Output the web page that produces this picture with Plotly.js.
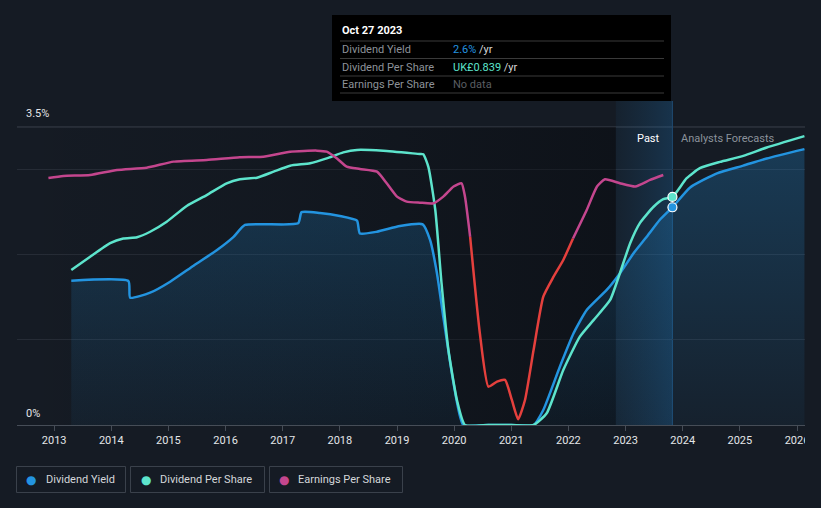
<!DOCTYPE html>
<html>
<head>
<meta charset="utf-8">
<script src="https://cdn.plot.ly/plotly-3.0.1.min.js"></script>
<style>
  html, body { margin:0; padding:0; background:#151b24; }
  #chart { width:821px; height:508px; }
</style>
</head>
<body>
<div id="chart"></div>
<script>
// ---------------- DATA ----------------
const yieldYears = [2013.30,2014.30,2014.33,2014.68,2015.03,2015.44,2015.85,2016.14,2016.34,2017.27,2017.33,2017.65,2018.00,2018.30,2018.35,2018.65,2019.05,2019.45,2019.58,2019.70,2019.81,2019.99,2020.16,2020.60,2021.00,2021.39,2021.56,2021.85,2022.09,2022.32,2022.67,2022.90,2023.14,2023.37,2023.60,2023.82,2024.13,2024.60,2025.06,2025.47,2026.13];
const yieldPct   = [1.695,1.69,1.495,1.554,1.683,1.871,2.055,2.21,2.349,2.368,2.50,2.49,2.455,2.40,2.25,2.27,2.337,2.357,2.17,1.78,1.27,0.49,0.0,0.0,0.0,0.0,0.176,0.685,1.077,1.35,1.586,1.78,2.017,2.21,2.41,2.557,2.79,2.956,3.046,3.13,3.24];

const dpsYears = [2013.30,2013.63,2013.98,2014.21,2014.45,2014.68,2014.97,2015.32,2015.67,2016.02,2016.25,2016.55,2016.84,2017.13,2017.48,2017.77,2018.06,2018.30,2018.76,2019.40,2019.46,2019.55,2019.67,2019.78,2019.90,2020.05,2020.19,2020.60,2021.00,2021.39,2021.62,2021.91,2022.20,2022.44,2022.73,2022.90,2023.08,2023.25,2023.49,2023.66,2023.82,2024.07,2024.30,2024.65,2025.06,2025.47,2026.13];
const dpsGBP   = [0.570,0.619,0.669,0.686,0.691,0.711,0.748,0.806,0.846,0.889,0.904,0.910,0.932,0.954,0.963,0.981,1.003,1.012,1.009,0.997,0.996,0.949,0.791,0.520,0.276,0.091,0,0,0,0,0.043,0.202,0.325,0.386,0.460,0.558,0.669,0.743,0.803,0.831,0.839,0.908,0.945,0.968,0.990,1.021,1.063];

const epsYears = [2012.90,2013.16,2013.63,2014.10,2014.62,2015.09,2015.67,2016.25,2016.66,2017.13,2017.60,2017.77,2017.95,2018.12,2018.35,2018.65,2018.82,2019.00,2019.17,2019.40,2019.64,2019.81,2019.99,2020.13,2020.19,2020.28,2020.45,2020.60,2020.75,2020.89,2021.01,2021.12,2021.24,2021.39,2021.56,2021.74,2021.91,2022.08,2022.32,2022.50,2022.64,2022.90,2023.17,2023.43,2023.66];
const epsGBP   = [0.290,0.2925,0.2936,0.2995,0.3022,0.3093,0.3113,0.3144,0.3151,0.321,0.3222,0.321,0.313,0.3034,0.3007,0.2975,0.2839,0.2682,0.2623,0.2611,0.2604,0.2682,0.280,0.2839,0.268,0.221,0.1077,0.045,0.0509,0.0529,0.0294,0.0067,0.0294,0.088,0.1507,0.1742,0.1938,0.219,0.2525,0.280,0.2886,0.2839,0.280,0.2878,0.2936];
const epsDeclineStart = 2020.28;
const epsDeclineEnd   = 2022.08;

const tickYears  = [2013,2014,2015,2016,2017,2018,2019,2020,2021,2022,2023,2024,2025,2026];
const tickLabels = ['2013','2014','2015','2016','2017','2018','2019','2020','2021','2022','2023','2024','2025','2026'];

const pastStart   = 2022.83;
const tooltipDate = 2023.82;
const tooltipLabel = 'Oct 27 2023';
const seriesNames = ['Dividend Yield','Dividend Per Share','Earnings Per Share'];

// ---------------- STYLE ----------------
const BG = '#151b24';
const C_YIELD = '#2394e0', C_DPS = '#5de4cc', C_EPS = '#c4468e', C_EPS_NEG = '#e5403d';
const L = 17, R = 805, T = 101, B = 425;
const px = x => (x - L) / (R - L);
const py = y => (B - y) / (B - T);
const FONT = 'Roboto, "Open Sans", sans-serif';

const X_RANGE = [2012.35, 2026.14];
const Y_TOP = 3.805;           // % at the top of the plotting area
const DPS_SCALE = 0.8390 / 2.678;
const EPS_SCALE = 0.1;

const iS = epsYears.indexOf(epsDeclineStart);
const iE = epsYears.indexOf(epsDeclineEnd);

const iY = yieldYears.indexOf(tooltipDate);
const iD = dpsYears.indexOf(tooltipDate);

const spline = {shape:'spline', smoothing:0.5, width:2.5};

const traces = [
  // background darkening of the past period
  {x:[X_RANGE[0], pastStart, pastStart, X_RANGE[0]], y:[0,0,3.5,3.5], fill:'toself', mode:'lines',
   line:{width:0}, fillcolor:'rgba(0,0,0,0)',
   fillgradient:{type:'horizontal', colorscale:[[0,'rgba(4,6,10,0)'],[0.45,'rgba(4,6,10,0.14)'],[1,'rgba(4,6,10,0.42)']]},
   hoverinfo:'skip', showlegend:false},
  // past highlight band
  {x:[pastStart, tooltipDate, tooltipDate, pastStart], y:[0,0,Y_TOP,Y_TOP], fill:'toself', mode:'lines',
   line:{width:0}, fillcolor:'rgba(0,0,0,0)',
   fillgradient:{type:'horizontal', colorscale:[[0,'rgba(30,110,170,0.08)'],[1,'rgba(30,120,190,0.26)']]},
   hoverinfo:'skip', showlegend:false},
  // dividend yield
  {x:yieldYears, y:yieldPct, mode:'lines', name:seriesNames[0], line:Object.assign({color:C_YIELD}, spline),
   fill:'tozeroy', fillcolor:'rgba(35,148,224,0.15)',
   fillgradient:{type:'vertical', colorscale:[[0,'rgba(35,148,224,0.05)'],[1,'rgba(35,148,224,0.26)']]},
   cliponaxis:false, showlegend:false},
  // dividend per share
  {x:dpsYears, y:dpsGBP, yaxis:'y2', mode:'lines', name:seriesNames[1], line:Object.assign({color:C_DPS}, spline),
   cliponaxis:false, showlegend:false},
  // earnings per share (three segments)
  {x:epsYears.slice(0, iS+1), y:epsGBP.slice(0, iS+1), yaxis:'y3', mode:'lines', name:seriesNames[2],
   line:Object.assign({color:C_EPS}, spline), showlegend:false},
  {x:epsYears.slice(iS, iE+1), y:epsGBP.slice(iS, iE+1), yaxis:'y3', mode:'lines', name:seriesNames[2],
   line:Object.assign({color:C_EPS_NEG}, spline), showlegend:false},
  {x:epsYears.slice(iE), y:epsGBP.slice(iE), yaxis:'y3', mode:'lines', name:seriesNames[2],
   line:Object.assign({color:C_EPS}, spline), showlegend:false},
  // markers at tooltip date
  {x:[yieldYears[iY]], y:[yieldPct[iY]], mode:'markers', marker:{size:9, color:C_YIELD, line:{color:'#ffffff', width:1.2}},
   showlegend:false, hoverinfo:'skip', cliponaxis:false},
  {x:[dpsYears[iD]], y:[dpsGBP[iD]], yaxis:'y2', mode:'markers', marker:{size:9, color:C_DPS, line:{color:'#ffffff', width:1.2}},
   showlegend:false, hoverinfo:'skip', cliponaxis:false}
];

// ---------------- SHAPES & ANNOTATIONS ----------------
const shapes = [
  {type:'line', xref:'paper', yref:'y', x0:0, x1:1, y0:3.5, y1:3.5, line:{color:'#3b414b', width:1}, layer:'below'},
  {type:'line', xref:'x', yref:'paper', x0:tooltipDate, x1:tooltipDate, y0:0, y1:1, line:{color:'#1f4466', width:1}, layer:'below'},
  // tooltip box
  {type:'rect', xref:'paper', yref:'paper', x0:px(332), x1:px(671), y0:py(101), y1:py(15), fillcolor:'#000000', line:{width:0}},
  // clip of the last tick label
  {type:'rect', xref:'paper', yref:'paper', x0:px(805), x1:px(822), y0:py(429), y1:py(455), fillcolor:BG, line:{width:0}}
];
[41, 58.5, 76, 93].forEach(y => shapes.push({type:'line', xref:'paper', yref:'paper', x0:px(340), x1:px(664), y0:py(y), y1:py(y), line:{color:'#3a3a3a', width:1}}));

// legend boxes
const legendBoxes = [[16,126],[130,265],[269,403]];
const legendColors = [C_YIELD, C_DPS, C_EPS];
legendBoxes.forEach(b => shapes.push({type:'rect', xref:'paper', yref:'paper', x0:px(b[0]+0.5), x1:px(b[1]-0.5), y0:py(466.5), y1:py(492.5),
  fillcolor:'rgba(0,0,0,0)', line:{color:'#3a414b', width:1}}));

const ann = (text, x, y, opts) => Object.assign({text, xref:'paper', yref:'paper', x:px(x), y:py(y), showarrow:false,
  xanchor:'left', yanchor:'middle', font:{family:FONT, size:11, color:'#e4e6e8'}}, opts || {});

const annotations = [
  ann('3.5%', 24, 114),
  ann('0%', 24, 413),
  ann('Past', 662, 138, {xanchor:'right', font:{family:FONT, size:11, color:'#ffffff'}}),
  ann('Analysts Forecasts', 679, 138, {font:{family:FONT, size:11, color:'#8b929b'}}),
  ann('<b>' + tooltipLabel + '</b>', 340, 31, {font:{family:FONT, size:11, color:'#ffffff'}}),
  ann(seriesNames[0], 340, 49.5, {font:{family:FONT, size:11, color:'#8d9299'}}),
  ann(seriesNames[1], 340, 67, {font:{family:FONT, size:11, color:'#8d9299'}}),
  ann(seriesNames[2], 340, 84.5, {font:{family:FONT, size:11, color:'#8d9299'}}),
  ann('<span style="color:' + C_YIELD + '">' + yieldPct[iY].toFixed(1) + '%</span> /yr', 451, 49.5, {font:{family:FONT, size:11, color:'#d8d8d8'}}),
  ann('<span style="color:' + C_DPS + '">UK£' + dpsGBP[iD].toFixed(3) + '</span> /yr', 451, 67, {font:{family:FONT, size:11, color:'#d8d8d8'}}),
  ann('No data', 451, 84.5, {font:{family:FONT, size:11, color:'#5a5e63'}})
];
const legendDotX = [31, 146, 284];
const legendTextX = [44, 158, 296];
seriesNames.forEach((n, i) => {
  annotations.push(ann('●', legendDotX[i], 479.5, {xanchor:'center', font:{family:'DejaVu Sans', size:12, color:legendColors[i]}}));
  annotations.push(ann(n, legendTextX[i], 479.5, {font:{family:FONT, size:11, color:'#d4d7da'}}));
});

const layout = {
  width:821, height:508,
  paper_bgcolor:BG, plot_bgcolor:BG,
  margin:{l:L, r:821-R, t:T, b:508-B, pad:0},
  showlegend:false,
  font:{family:FONT, size:11, color:'#e4e6e8'},
  xaxis:{range:X_RANGE, tickmode:'array', tickvals:tickYears, ticktext:tickLabels, showgrid:false, zeroline:false,
    showline:true, linecolor:'#464d57', linewidth:1, ticks:'outside', ticklen:5, tickcolor:'#464d57',
    tickfont:{family:FONT, size:11, color:'#e4e6e8'}, fixedrange:true},
  yaxis:{range:[0, Y_TOP], tickmode:'array', tickvals:[1,2,3], showticklabels:false, showgrid:true, gridcolor:'#262c36',
    gridwidth:1, zeroline:false, showline:false, fixedrange:true},
  yaxis2:{range:[0, Y_TOP*DPS_SCALE], overlaying:'y', visible:false, showgrid:false, zeroline:false},
  yaxis3:{range:[0, Y_TOP*EPS_SCALE], overlaying:'y', visible:false, showgrid:false, zeroline:false},
  shapes, annotations,
  hovermode:false
};

Plotly.newPlot('chart', traces, layout, {displayModeBar:false, staticPlot:true});
</script>
</body>
</html>
